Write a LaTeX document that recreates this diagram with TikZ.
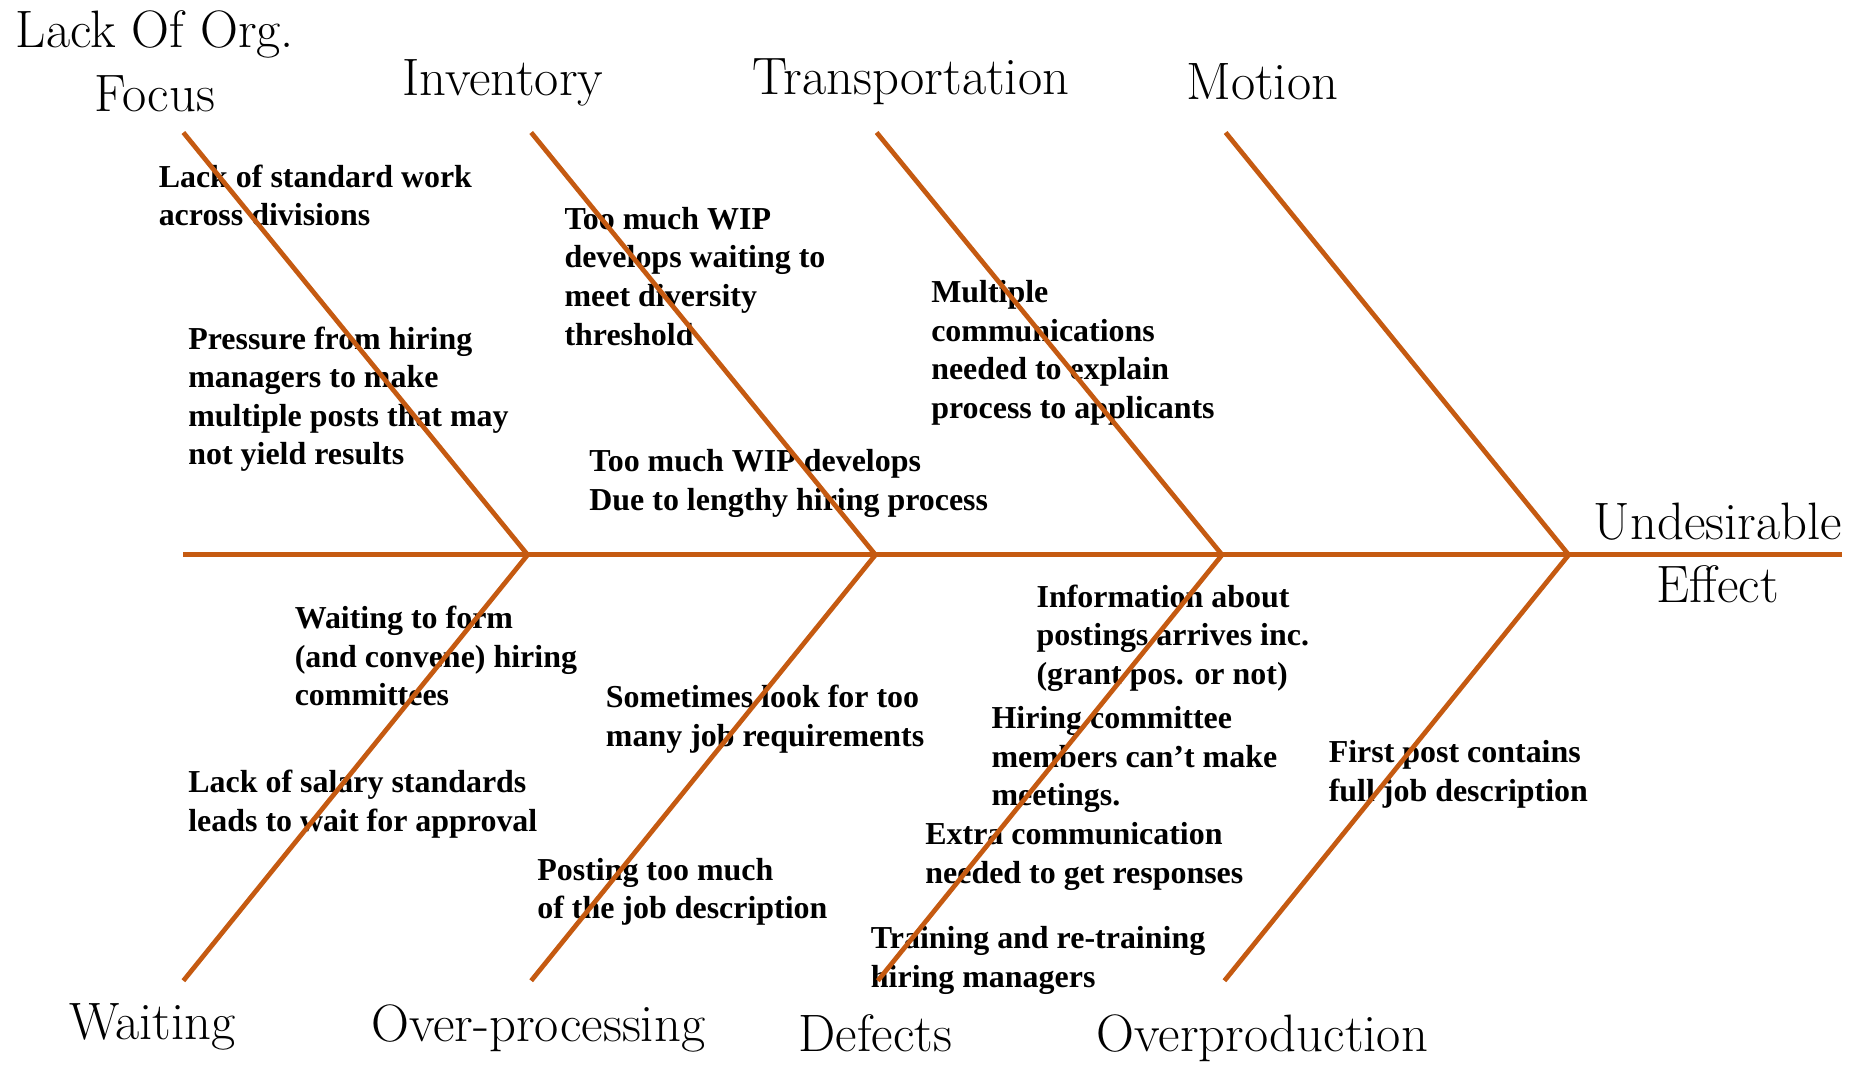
\documentclass[tikz,border=0pt]{standalone}
\usepackage{fontspec}
\newfontfamily\lblfont{Liberation Serif}
\definecolor{bonecol}{RGB}{197,90,17}
\begin{document}
\begin{tikzpicture}[x=1pt,y=-1pt,
  bone/.style={draw=bonecol, line width=4pt},
  spine/.style={draw=bonecol, line width=4.2pt},
  cat/.style={font=\fontsize{44.5}{53.5}\selectfont, inner sep=0pt, anchor=base, align=center},
  cause/.style={font=\lblfont\bfseries\fontsize{27}{32.6}\selectfont, inner sep=0pt, anchor=north west, align=left}]
\useasboundingbox (0,0) rectangle (1568,901);

% category labels
\node[cat, anchor=north] (lof) at (131,9) {Lack Of Org.\\Focus};
\node[cat] (inv) at (425,81) {Inventory};
\node[cat] (tra) at (770,80) {Transportation};
\node[cat] (mot) at (1067,84) {Motion};
\node[cat, anchor=north] (ue) at (1452,425) {Undesirable\\Effect};
\node[cat] (wai) at (129,879) {Waiting};
\node[cat] (ovp) at (455,880) {Over-processing};
\node[cat] (def) at (740,889) {Defects};
\node[cat] (ovr) at (1067,889) {Overproduction};

% causes
\node[cause] (c1) at (134,139) {Lack of standard work\\across divisions};
\node[cause] (c2) at (159,276) {Pressure from hiring\\managers to make\\multiple posts that may\\not yield results};
\node[cause] (c3) at (477,175) {Too much WIP\\develops waiting to\\meet diversity\\threshold};
\node[cause] (c4) at (498,380) {Too much WIP develops\\Due to lengthy hiring process};
\node[cause] (c5) at (787,237) {Multiple\\communications\\needed to explain\\process to applicants};
\node[cause] (c6) at (249,512) {Waiting to form\\(and convene) hiring\\committees};
\node[cause] (c7) at (159,651) {Lack of salary standards\\leads to wait for approval};
\node[cause] (c8) at (512,579) {Sometimes look for too\\many job requirements};
\node[cause] (c9) at (454,725) {Posting too much\\of the job description};
\node[cause] (c10) at (876,494) {Information about\\postings arrives inc.\\(grant pos. or not)};
\node[cause] (c11) at (838,597) {Hiring committee\\members can’t make\\meetings.};
\node[cause] (c12) at (782,695) {Extra communication\\needed to get responses};
\node[cause] (c13) at (736,783) {Training and re-training\\hiring managers};
\node[cause] (c14) at (1123,626) {First post contains\\full job description};

% skeleton coordinates
\coordinate (s0) at (155,469);
\coordinate (s1) at (446,469);
\coordinate (s2) at (740,469);
\coordinate (s3) at (1033,469);
\coordinate (s4) at (1326,469);
\coordinate (send) at (1557,469);
\coordinate (t1) at (155,112);
\coordinate (t2) at (449,112);
\coordinate (t3) at (741,112);
\coordinate (t4) at (1036,112);
\coordinate (b1) at (155,829);
\coordinate (b2) at (449,829);
\coordinate (b3) at (742,829);
\coordinate (b4) at (1035,829);

\draw[spine] (s0) -- (send);
\draw[bone] (t1) -- (s1);
\draw[bone] (t2) -- (s2);
\draw[bone] (t3) -- (s3);
\draw[bone] (t4) -- (s4);
\draw[bone] (s1) -- (b1);
\draw[bone] (s2) -- (b2);
\draw[bone] (s3) -- (b3);
\draw[bone] (s4) -- (b4);
\end{tikzpicture}
\end{document}
